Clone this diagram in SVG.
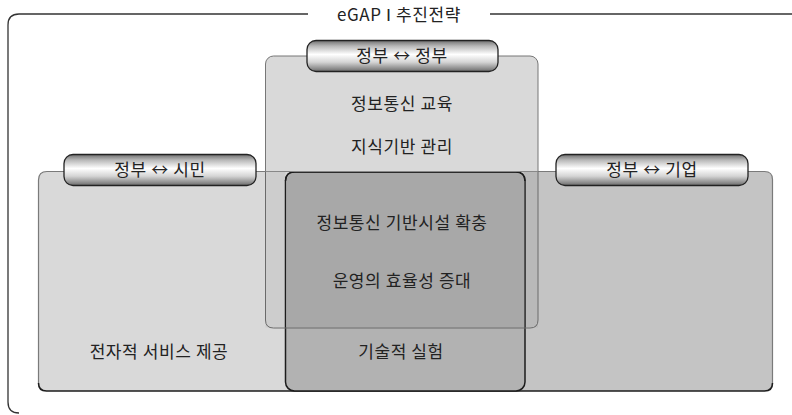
<svg xmlns="http://www.w3.org/2000/svg" width="792" height="415" viewBox="0 0 792 415">
<defs>
<linearGradient id="pill" x1="0" y1="0" x2="0" y2="1">
<stop offset="0" stop-color="#707070"/>
<stop offset="0.18" stop-color="#b8b8b8"/>
<stop offset="0.45" stop-color="#ffffff"/>
<stop offset="0.7" stop-color="#d4d4d4"/>
<stop offset="1" stop-color="#6c6c6c"/>
</linearGradient>
<style>
.t{font-family:"Noto Sans CJK KR","Liberation Sans",sans-serif;font-size:17px;letter-spacing:0.6px;fill:#222;text-anchor:middle}
.p{fill:url(#pill);stroke:#222;stroke-width:1.3}
.frame{fill:none;stroke:#333;stroke-width:1.3}
</style>
</defs>
<rect width="792" height="415" fill="#fff"/>
<g id="frame">
<path class="frame" d="M308 14 H19 Q8 14 8 25 V402 Q8 413 19 413"/>
<path class="frame" d="M490 14 H792"/>
<text class="t" x="399" y="21">eGAP <tspan font-family="Liberation Serif, serif">Ⅰ</tspan> 추진전략</text>
</g>
<g id="top-zone">
<rect x="265.5" y="56" width="272.5" height="272" rx="8" fill="#d9d9d9" stroke="#777" stroke-width="1"/>
</g>
<g id="bottom-zone">
<rect x="38.5" y="171.5" width="734" height="219.5" rx="8" fill="#c4c4c4"/>
<path d="M47 171.5 H400 V391 H47 Q38.5 391 38.5 382.5 V180 Q38.5 171.5 47 171.5 Z" fill="#d9d9d9"/>
<path d="M38.5 383 V180 Q38.5 171.5 47 171.5 H764.5 Q772.5 171.5 772.5 179.5 V383" fill="none" stroke="#7a7a7a" stroke-width="1.2"/>
<path d="M38.5 383 Q38.5 391 46.5 391 H764.5 Q772.5 391 772.5 383" fill="none" stroke="#1c1c1c" stroke-width="1.6"/>
<rect x="265.5" y="172" width="20" height="155.5" fill="#cdcdcd"/>
<rect x="524" y="172" width="14" height="155.5" fill="#b9b9b9"/>
</g>
<g id="center-zone">
<rect x="285.5" y="172" width="239.5" height="219" rx="9" fill="#b2b2b2" stroke="#1c1c1c" stroke-width="1.5"/>
<path d="M286.3 327.5 V181 Q286.3 172.8 294 172.8 H516 Q524.2 172.8 524.2 181 V327.5 Z" fill="#a8a8a8"/>
<path d="M285.5 181 Q285.5 172 294.5 172 H516 Q525 172 525 181" fill="none" stroke="#1c1c1c" stroke-width="1.5"/>
</g>
<g id="connectors">
<path d="M265.5 171.5 V320 Q265.5 328 273.5 328 H530 Q538 328 538 320 V171.5" fill="none" stroke="#6a6a6a" stroke-width="1"/>
<path d="M265.5 171.5 H538" fill="none" stroke="#888" stroke-width="1"/>
</g>
<g id="pill-gov">
<rect class="p" x="307" y="40.5" width="191" height="31" rx="9"/>
<text class="t" x="402" y="61.5">정부 ↔ 정부</text>
</g>
<g id="pill-citizen">
<rect class="p" x="64" y="154.5" width="192" height="31" rx="9"/>
<text class="t" x="160" y="176">정부 ↔ 시민</text>
</g>
<g id="pill-business">
<rect class="p" x="556" y="154.5" width="192" height="31" rx="9"/>
<text class="t" x="652" y="176">정부 ↔ 기업</text>
</g>
<g id="labels">
<text class="t" x="402" y="110">정보통신 교육</text>
<text class="t" x="402" y="153">지식기반 관리</text>
<text class="t" x="402" y="229">정보통신 기반시설 확충</text>
<text class="t" x="402" y="287">운영의 효율성 증대</text>
<text class="t" x="159" y="358">전자적 서비스 제공</text>
<text class="t" x="401" y="358">기술적 실험</text>
</g>
</svg>
